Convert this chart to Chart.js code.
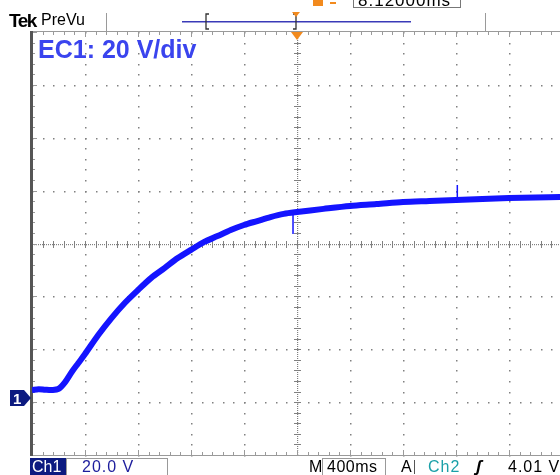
<!DOCTYPE html>
<html>
<head>
<meta charset="utf-8">
<script src="https://cdn.jsdelivr.net/npm/chart.js@4"></script>
<style>
  body { margin: 0; background: #fff; }
  #wrap { position: relative; width: 560px; height: 475px; overflow: hidden; font-family: "Liberation Sans", Arial, sans-serif; }
  #chart { position: absolute; left: 0; top: 0; }
  .lbl { position: absolute; white-space: nowrap; line-height: 1; }
</style>
</head>
<body>
<div id="wrap">
  <canvas id="chart" width="560" height="475"></canvas>

  <!-- header -->
  <div class="lbl" style="left:9px;top:11px;font-size:19px;font-weight:bold;letter-spacing:-1.5px;">Tek</div>
  <div class="lbl" style="left:41px;top:12px;font-size:16px;">PreVu</div>
  <div class="lbl" style="left:358px;top:-8px;font-size:17px;letter-spacing:1px;">8.12000ms</div>

  <!-- scale label -->
  <div class="lbl" style="left:38px;top:37px;font-size:25px;font-weight:bold;color:#3a44ee;">EC1: 20 V/div</div>

  <!-- ground marker text -->
  <div class="lbl" style="left:13px;top:391px;font-size:15px;font-weight:bold;color:#fff;">1</div>

  <!-- footer -->
  <div class="lbl" style="left:32px;top:459px;font-size:16px;color:#fff;">Ch1</div>
  <div class="lbl" style="left:82px;top:459px;font-size:16px;color:#1c1c9c;letter-spacing:1px;">20.0 V</div>
  <div class="lbl" style="left:309px;top:459px;font-size:16px;">M</div>
  <div class="lbl" style="left:327px;top:459px;font-size:16px;letter-spacing:0.5px;">400ms</div>
  <div class="lbl" style="left:401px;top:459px;font-size:16px;">A</div>
  <div class="lbl" style="left:428px;top:459px;font-size:16px;color:#1aa0a8;letter-spacing:1px;">Ch2</div>
  <div class="lbl" style="left:476px;top:458px;font-size:17px;font-weight:bold;font-style:italic;">ʃ</div>
  <div class="lbl" style="left:508px;top:459px;font-size:16px;letter-spacing:1px;">4.01 V</div>
</div>

<script>
// time in seconds relative to trigger, 400 ms/div
const timeS = [-2.0, -1.95, -1.9, -1.85, -1.8, -1.75, -1.7, -1.65, -1.6, -1.5,
  -1.4, -1.3, -1.2, -1.1, -1.0, -0.9, -0.8, -0.7, -0.6, -0.5,
  -0.4, -0.3, -0.2, -0.1, 0.0, 0.2, 0.4, 0.6, 0.8, 1.0,
  1.2, 1.4, 1.6, 1.8, 2.0];
// Ch1 volts, 20 V/div
const voltsV = [3.0, 3.3, 3.1, 3.0, 3.4, 6.0, 9.8, 13.2, 16.6, 23.8,
  30.2, 35.9, 40.8, 45.4, 49.1, 52.9, 56.0, 59.0, 61.2, 63.5,
  65.4, 66.9, 68.4, 69.6, 70.3, 71.5, 72.6, 73.3, 74.1, 74.5,
  74.9, 75.2, 75.6, 75.8, 76.0];

// single-sample glitches
const spikeTime = [-0.03, 1.21];
const spikeFrom = [70.0, 75.0];
const spikeTo = [62.0, 80.5];

const secPerDiv = 0.4;
const voltsPerDiv = 20;
const groundOffsetV = 58.4; // value at screen centre line

const tracePts = timeS.map((t, i) => ({ x: t, y: voltsV[i] }));
const spikePts = [];
spikeTime.forEach((t, i) => {
  spikePts.push({ x: t, y: spikeFrom[i] }, { x: t, y: spikeTo[i] }, { x: t, y: null });
});

// oscilloscope graticule, border and markers
const scopePlugin = {
  id: 'scope',
  beforeDatasetsDraw(chart) {
    const ctx = chart.ctx;
    const xs = chart.scales.x, ys = chart.scales.y;
    const a = chart.chartArea;
    const cx = xs.getPixelForValue(0);
    const dx = xs.getPixelForValue(secPerDiv) - cx;
    const cy = ys.getPixelForValue(groundOffsetV);
    const dy = ys.getPixelForValue(groundOffsetV - voltsPerDiv) - cy;
    ctx.save();
    ctx.fillStyle = '#808080';

    // dotted division lines
    for (let k = -4; k <= 5; k++) {
      if (k === 0) continue;
      const x = Math.round(cx + k * dx);
      for (let j = 0; j <= 40; j++) {
        const y = a.top + j * dy / 5;
        if (y > a.bottom) break;
        ctx.fillRect(x, Math.round(y), 1.5, 1.5);
      }
    }
    for (let k = -3; k <= 3; k++) {
      if (k === 0) continue;
      const y = Math.round(cy + k * dy);
      for (let j = 0; j <= 60; j++) {
        const x = a.left + j * dx / 5;
        if (x > a.right) break;
        ctx.fillRect(Math.round(x), y, 1.5, 1.5);
      }
    }

    // centre cross: dense dots + minor ticks
    for (let x = a.left; x < a.right; x += 2) ctx.fillRect(x, Math.round(cy), 1, 1.2);
    for (let y = a.top; y < a.bottom; y += 2) ctx.fillRect(Math.round(cx), y, 1.2, 1);
    for (let j = 0; j <= 60; j++) {
      const x = Math.round(a.left + j * dx / 5);
      if (x > a.right) break;
      ctx.fillRect(x, Math.round(cy) - 3, 1, 7);
    }
    for (let j = 0; j <= 40; j++) {
      const y = Math.round(a.top + j * dy / 5);
      if (y > a.bottom) break;
      ctx.fillRect(Math.round(cx) - 3, y, 7, 1);
    }

    // border with inward ticks
    ctx.fillStyle = '#9a9a9a';
    ctx.fillRect(a.left, a.top - 1, a.right - a.left, 1);
    ctx.fillRect(a.left, a.bottom, a.right - a.left, 1);
    for (let j = 0; j <= 60; j++) {
      const x = Math.round(a.left + j * dx / 5);
      if (x > a.right) break;
      const len = j % 5 === 0 ? 5 : 3;
      ctx.fillRect(x, a.top, 1, len);
      ctx.fillRect(x, a.bottom - len, 1, len);
    }
    ctx.fillStyle = '#555';
    ctx.fillRect(a.left - 2, a.top - 1, 3, a.bottom - a.top + 2);
    ctx.fillStyle = '#9a9a9a';
    for (let j = 0; j <= 40; j++) {
      const y = Math.round(a.top + j * dy / 5);
      if (y > a.bottom) break;
      ctx.fillRect(a.left + 1, y, j % 5 === 0 ? 4 : 2, 1);
    }
    ctx.restore();
  },
  afterDraw(chart) {
    const ctx = chart.ctx;
    const xs = chart.scales.x, ys = chart.scales.y;
    const a = chart.chartArea;
    const tx = Math.round(xs.getPixelForValue(0));
    const gy = Math.round(ys.getPixelForValue(0));
    ctx.save();

    // trigger position marker
    ctx.fillStyle = '#f28a1e';
    ctx.beginPath();
    ctx.moveTo(tx - 6, a.top); ctx.lineTo(tx + 6, a.top); ctx.lineTo(tx, a.top + 8);
    ctx.closePath(); ctx.fill();

    // Ch1 ground marker
    ctx.fillStyle = '#0c1a80';
    ctx.beginPath();
    ctx.moveTo(10, gy - 8); ctx.lineTo(24, gy - 8); ctx.lineTo(31, gy);
    ctx.lineTo(24, gy + 8); ctx.lineTo(10, gy + 8);
    ctx.closePath(); ctx.fill();

    // header: separators, record view, brackets
    ctx.fillStyle = '#9a9a9a';
    ctx.fillRect(106, 13, 1, 18);
    ctx.fillRect(485, 13, 1, 18);
    ctx.fillStyle = '#3a3ab8';
    ctx.fillRect(182, 21, 229, 1.5);
    ctx.strokeStyle = '#333';
    ctx.lineWidth = 1.3;
    ctx.beginPath();
    ctx.moveTo(209, 14); ctx.lineTo(206, 14); ctx.lineTo(206, 29); ctx.lineTo(209, 29);
    ctx.moveTo(293, 14); ctx.lineTo(296, 14); ctx.lineTo(296, 29); ctx.lineTo(293, 29);
    ctx.stroke();
    ctx.fillStyle = '#f28a1e';
    ctx.beginPath();
    ctx.moveTo(292, 12); ctx.lineTo(300, 12); ctx.lineTo(296, 17);
    ctx.closePath(); ctx.fill();
    // clipped top-right readout
    ctx.fillRect(313, -4, 10, 10);
    ctx.fillRect(330, 2, 6, 2);
    ctx.strokeStyle = '#777';
    ctx.lineWidth = 1;
    ctx.strokeRect(353.5, -5.5, 107, 13);

    // footer boxes
    ctx.fillStyle = '#0c1a80';
    ctx.fillRect(30, 458, 36, 17);
    ctx.strokeStyle = '#999';
    ctx.strokeRect(66.5, 458.5, 101, 17);
    ctx.strokeRect(322.5, 458.5, 63, 17);
    ctx.fillStyle = '#555';
    ctx.fillRect(414, 460, 1, 14);
    ctx.restore();
  }
};

new Chart(document.getElementById('chart'), {
  type: 'line',
  data: {
    datasets: [
      {
        data: tracePts,
        borderColor: '#1414ff',
        borderWidth: 6,
        pointRadius: 0,
        tension: 0.3,
        borderCapStyle: 'butt'
      },
      {
        data: spikePts,
        borderColor: '#1414ff',
        borderWidth: 1.5,
        pointRadius: 0,
        spanGaps: false
      }
    ]
  },
  options: {
    responsive: false,
    animation: false,
    events: [],
    layout: { padding: { left: 32, right: 0, top: 32, bottom: 20 } },
    scales: {
      x: { type: 'linear', min: -2.0, max: 1.985, display: false },
      y: { type: 'linear', min: groundOffsetV - 4 * voltsPerDiv, max: groundOffsetV + 4 * voltsPerDiv, display: false }
    },
    plugins: { legend: { display: false }, tooltip: { enabled: false } }
  },
  plugins: [scopePlugin]
});
</script>
</body>
</html>
